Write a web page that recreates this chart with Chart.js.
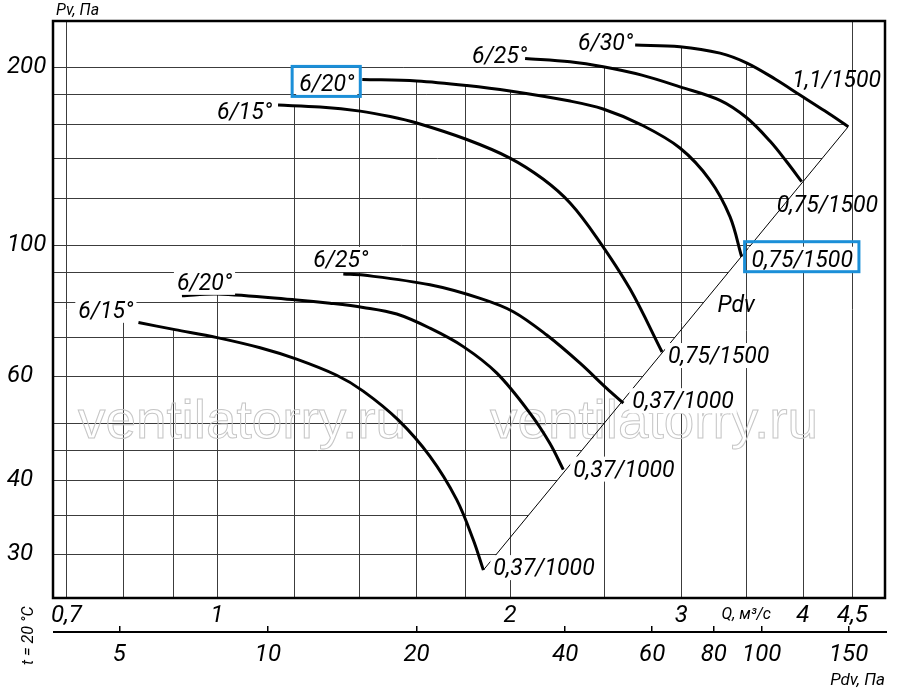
<!DOCTYPE html>
<html>
<head>
<meta charset="utf-8">
<title>Pv - Q</title>
<script src="https://cdn.jsdelivr.net/npm/chart.js@4.4.1/dist/chart.umd.min.js"></script>
<style>
  html, body { margin: 0; padding: 0; background: #fff; }
</style>
</head>
<body>
<canvas id="chart" width="900" height="691"></canvas>
<script>
// curves: Q in m3/s, Pv in Pa
// upper group, motors 0,75/1500 and 1,1/1500
const q615 = [1.155, 1.276, 1.403, 1.506, 1.604, 1.806, 2.0, 2.163, 2.306, 2.458, 2.658, 2.867];
const p615 = [172.3, 171.0, 168.3, 164.8, 160.7, 150.7, 140.2, 129.2, 117.7, 102.7, 84.2, 65.9];
const q620 = [1.41, 1.604, 1.806, 2.0, 2.306, 2.494, 2.733, 2.991, 3.211, 3.367, 3.461];
const p620 = [190.4, 189.2, 185.9, 182.0, 175.0, 169.7, 159.4, 145.8, 128.7, 111.6, 95.5];
const q625 = [2.073, 2.306, 2.494, 2.733, 2.991, 3.289, 3.503, 3.701, 3.851, 3.99];
const p625 = [206.6, 203.9, 200.0, 193.6, 185.0, 175.5, 164.0, 149.8, 138.2, 127.9];
const q630 = [2.69, 2.991, 3.289, 3.505, 3.746, 3.974, 4.217, 4.455];
const p630 = [217.6, 216.3, 210.9, 202.9, 190.7, 179.2, 168.3, 158.4];
// lower group, motor 0,37/1000
const q615s = [0.83, 0.905, 1.0, 1.107, 1.207, 1.327, 1.413, 1.535, 1.655, 1.763, 1.834, 1.878];
const p615s = [73.9, 71.9, 69.7, 67.0, 64.1, 60.2, 56.6, 50.6, 43.9, 37.1, 31.7, 28.2];
const q620s = [0.92, 1.0, 1.207, 1.306, 1.413, 1.53, 1.655, 1.791, 1.939, 2.098, 2.198, 2.269];
const p620s = [82.0, 82.6, 80.7, 79.7, 78.4, 76.4, 72.3, 67.3, 60.7, 51.9, 46.2, 41.7];
const q625s = [1.348, 1.413, 1.655, 1.864, 2.016, 2.182, 2.361, 2.515, 2.616];
const p625s = [89.3, 88.9, 85.6, 81.2, 77.1, 70.4, 63.1, 57.2, 54.0];
// Pdv line through the curve ends
const pdvQ = [1.878, 4.455];
const pdvP = [28.2, 158.4];

// axes
const qMin = 0.678, qMax = 4.86;
const pMin = 25.3, pMax = 239;
const pdvMin = 3.67, pdvMax = 177.7;
const qTicks = [0.7, 1, 2, 3, 4, 4.5];
const pTicks = [30, 40, 60, 100, 200];
const pdvTicks = [5, 10, 20, 40, 60, 80, 100, 150];
const qGrid = [0.7, 0.8, 0.9, 1, 1.2, 1.4, 1.6, 1.8, 2, 2.5, 3, 3.5, 4, 4.5];
const qGridFull = [0.7, 4.5];
const pGrid = [30, 35, 40, 45, 50, 60, 70, 80, 90, 100, 120, 140, 160, 180, 200];

const ITAL = 'italic 23px Roboto';

function pts(q, p) {
  return q.map((v, i) => ({x: v, y: p[i]}));
}
function curve(q, p) {
  return {data: pts(q, p), borderColor: '#000', borderWidth: 3, pointRadius: 0,
    showLine: true, fill: false, tension: 0.35};
}
function comma(v) {
  return String(v).replace('.', ',');
}

// labels sit next to the first or last point of a curve
const notes = [
  {t: '6/15°', ds: 0, at: 'start', dx: -6, dy: 14, align: 'right'},
  {t: '6/20°', ds: 1, at: 'start', dx: -8, dy: 12, align: 'right', box: true},
  {t: '6/25°', ds: 2, at: 'start', dx: 2, dy: 5, align: 'right'},
  {t: '6/30°', ds: 3, at: 'start', dx: -2, dy: 5, align: 'right'},
  {t: '6/15°', ds: 4, at: 'start', dx: -5, dy: -5, align: 'right', bg: true},
  {t: '6/20°', ds: 5, at: 'start', dx: -5, dy: -6, align: 'left', bg: true},
  {t: '6/25°', ds: 6, at: 'start', dx: -30, dy: -7, align: 'left', bg: true},
  {t: '1,1/1500', ds: 3, at: 'end', dx: -56, dy: -40, align: 'left'},
  {t: '0,75/1500', ds: 2, at: 'end', dx: -25, dy: 30, align: 'left'},
  {t: '0,75/1500', ds: 1, at: 'end', dx: 10, dy: 10, align: 'left', box: true},
  {t: '0,75/1500', ds: 0, at: 'end', dx: 6, dy: 11, align: 'left', bg: true},
  {t: '0,37/1000', ds: 6, at: 'end', dx: 9, dy: 5, align: 'left', bg: true},
  {t: '0,37/1000', ds: 5, at: 'end', dx: 10, dy: 7, align: 'left', bg: true},
  {t: '0,37/1000', ds: 4, at: 'end', dx: 10, dy: 5, align: 'left', bg: true},
  {t: 'Pdv', ds: 1, at: 'end', dx: -24, dy: 55, align: 'left'}
];

function seg(ctx, x1, y1, x2, y2) {
  ctx.beginPath(); ctx.moveTo(x1, y1); ctx.lineTo(x2, y2); ctx.stroke();
}

// grid is only drawn under the curves and left of the Pdv line
const paper = {
  id: 'paper',
  beforeDatasetsDraw(chart) {
    const {ctx, chartArea: a, scales} = chart;
    const lines = [0, 1, 2, 3, 4, 5, 6].map(i => chart.getDatasetMeta(i).data.map(p => ({x: p.x, y: p.y})));
    const diag = chart.getDatasetMeta(7).data;
    const d0 = diag[0], d1 = diag[1];

    function topAt(px) {
      let best = null;
      lines.forEach(c => {
        const f = c[0], l = c[c.length - 1];
        if (px < f.x - 4 || px > l.x + 4) return;
        let y;
        if (px <= f.x) y = f.y;
        else if (px >= l.x) y = l.y;
        else {
          for (let k = 1; k < c.length; k++) {
            if (px <= c[k].x) {
              y = c[k - 1].y + (px - c[k - 1].x) / (c[k].x - c[k - 1].x) * (c[k].y - c[k - 1].y);
              break;
            }
          }
        }
        if (best === null || y < best) best = y;
      });
      if (best === null) {
        let dmin = Infinity;
        lines.forEach(c => [c[0], c[c.length - 1]].forEach(p => {
          const d = Math.abs(p.x - px);
          if (d < dmin) { dmin = d; best = p.y; }
        }));
      }
      return best;
    }
    const top = lines[3];
    function rightAt(py) {
      if (py >= d1.y) return d0.x + (py - d0.y) * (d1.x - d0.x) / (d1.y - d0.y);
      if (py <= top[0].y) return top[0].x;
      for (let k = 1; k < top.length; k++) {
        if (py <= top[k].y) {
          return top[k - 1].x + (py - top[k - 1].y) / (top[k].y - top[k - 1].y) * (top[k].x - top[k - 1].x);
        }
      }
      return a.right;
    }

    ctx.save();
    ctx.beginPath(); ctx.rect(a.left, a.top, a.width, a.height); ctx.clip();
    ctx.strokeStyle = '#3c3c3c';
    ctx.lineWidth = 1;
    qGrid.forEach(v => {
      const px = Math.round(scales.x.getPixelForValue(v)) + 0.5;
      const y0 = qGridFull.includes(v) ? a.top : topAt(px);
      seg(ctx, px, a.bottom, px, y0);
    });
    pGrid.forEach(v => {
      const py = Math.round(scales.y.getPixelForValue(v)) + 0.5;
      seg(ctx, a.left, py, Math.min(a.right, rightAt(py)), py);
    });

    // watermark, outline only
    ctx.font = '54px "Liberation Sans"';
    ctx.strokeStyle = '#c6c6c6';
    ctx.lineWidth = 1;
    const w = ctx.measureText('ventilatorry.ru').width;
    [a.left + 25, a.left + 437].forEach(x0 => {
      ctx.save();
      ctx.translate(x0, a.top + 417);
      ctx.scale(328 / w, 1);
      ctx.strokeText('ventilatorry.ru', 0, 0);
      ctx.restore();
    });
    ctx.restore();
  },
  afterDatasetsDraw(chart) {
    const {ctx} = chart;
    ctx.save();
    ctx.font = ITAL;
    ctx.textBaseline = 'alphabetic';
    notes.forEach(n => {
      const d = chart.getDatasetMeta(n.ds).data;
      const p = n.at === 'start' ? d[0] : d[d.length - 1];
      const w = ctx.measureText(n.t).width;
      const x = p.x + n.dx, base = p.y + n.dy;
      const left = n.align === 'right' ? x - w : x;
      if (n.bg || n.box) {
        ctx.fillStyle = '#fff';
        ctx.fillRect(left - 3, base - 20, w + 6, 25);
      }
      if (n.box) {
        ctx.strokeStyle = '#1b8fd8';
        ctx.lineWidth = 3;
        ctx.strokeRect(left - 7, base - 25, w + 13, 30);
      }
      ctx.fillStyle = '#000';
      ctx.textAlign = 'left';
      ctx.fillText(n.t, left, base);
    });
    ctx.restore();
  },
  afterDraw(chart) {
    const {ctx, chartArea: a, scales} = chart;
    ctx.save();
    ctx.strokeStyle = '#000';
    ctx.lineWidth = 2.5;
    ctx.strokeRect(a.left, a.top, a.width, a.height);
    // Pdv axis line, ticks stand on it
    const s = scales.x2;
    ctx.lineWidth = 2;
    seg(ctx, s.left, s.top + 6, s.right + 2, s.top + 6);

    ctx.fillStyle = '#000';
    ctx.font = 'italic 16px Roboto';
    ctx.textAlign = 'left';
    ctx.textBaseline = 'alphabetic';
    ctx.fillText('Pv, Па', a.left + 3, a.top - 6);
    ctx.fillText('Q, м³/с', scales.x.getPixelForValue(3.3), a.bottom + 21);
    ctx.save();
    ctx.translate(33, a.bottom + 67);
    ctx.rotate(-Math.PI / 2);
    ctx.fillText('t = 20 °C', 0, 0);
    ctx.restore();
    ctx.restore();
  }
};

const tickFont = {family: 'Roboto', size: 24, style: 'italic'};

new Chart(document.getElementById('chart'), {
  type: 'scatter',
  data: {
    datasets: [
      curve(q615, p615), curve(q620, p620), curve(q625, p625), curve(q630, p630),
      curve(q615s, p615s), curve(q620s, p620s), curve(q625s, p625s),
      {data: pts(pdvQ, pdvP), borderColor: '#000', borderWidth: 1, pointRadius: 0,
        showLine: true, fill: false, tension: 0}
    ]
  },
  options: {
    responsive: false,
    animation: false,
    layout: {padding: {left: 7, right: 15, top: 21, bottom: 0}},
    plugins: {legend: {display: false}, tooltip: {enabled: false}},
    scales: {
      x: {
        type: 'logarithmic', position: 'bottom', weight: 0,
        min: qMin, max: qMax,
        grid: {display: false, drawTicks: false},
        border: {display: false},
        afterBuildTicks: s => { s.ticks = qTicks.map(v => ({value: v})); },
        afterFit: s => { s.height = 28; },
        ticks: {font: tickFont, color: '#000', padding: 4, maxRotation: 0, autoSkip: false,
          callback: v => comma(v)}
      },
      x2: {
        type: 'logarithmic', position: 'bottom', weight: 1,
        min: pdvMin, max: pdvMax,
        grid: {display: true, drawOnChartArea: false, drawTicks: true, tickLength: 6, color: '#000', lineWidth: 1.5},
        border: {display: false},
        afterBuildTicks: s => { s.ticks = pdvTicks.map(v => ({value: v})); },
        afterFit: s => { s.height = 65; },
        ticks: {font: tickFont, color: '#000', padding: 9, maxRotation: 0, autoSkip: false,
          callback: v => comma(v)},
        title: {display: true, text: 'Pdv, Па', align: 'end', color: '#000',
          font: {family: 'Roboto', size: 17, style: 'italic'}, padding: {top: 0, bottom: 0}}
      },
      y: {
        type: 'logarithmic', position: 'left',
        min: pMin, max: pMax,
        grid: {display: false, drawTicks: false},
        border: {display: false},
        afterBuildTicks: s => { s.ticks = pTicks.map(v => ({value: v})); },
        afterFit: s => { s.width = 46; },
        ticks: {font: tickFont, color: '#000', padding: 0, crossAlign: 'far', autoSkip: false,
          callback: v => String(v)}
      }
    }
  },
  plugins: [paper]
});
</script>
</body>
</html>
